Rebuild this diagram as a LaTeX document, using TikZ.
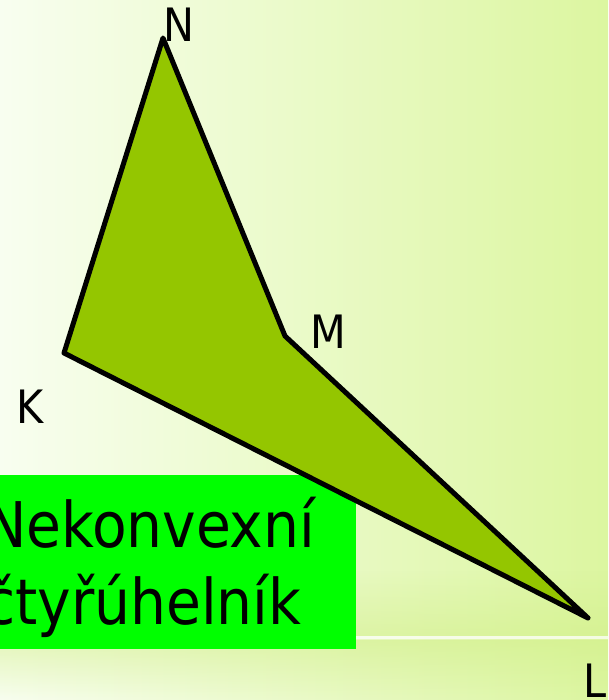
\documentclass[tikz,border=0pt]{standalone}
\usepackage{fontspec}
\setmainfont{DejaVu Sans Condensed}
\usetikzlibrary{calc,fadings}
\definecolor{bgL}{HTML}{F8FEF0}
\definecolor{bgR}{HTML}{DCF6A0}
\definecolor{polyfill}{HTML}{94C600}
\definecolor{boxgreen}{HTML}{00FF00}
\definecolor{band}{HTML}{D0EE84}
\tikzset{
  vlabel/.style={anchor=base west, inner sep=0pt, font=\fontsize{46}{46}\selectfont},
  quad/.style={draw=black, line width=5pt, line join=round, fill=polyfill},
}
\begin{document}
\begin{tikzpicture}[x=1pt,y=-1pt]
\useasboundingbox (0,0) rectangle (608,700);
\clip (0,0) rectangle (608,700);
% background
\shade[left color=bgL, right color=bgR] (0,0) rectangle (608,700);
\fill[band, opacity=0.45, path fading=north] (0,570) rectangle (608,636);
\fill[band, opacity=0.5, path fading=south] (0,640) rectangle (608,700);
\fill[white, opacity=0.7] (0,636) rectangle (608,639);
% box
\fill[boxgreen] (0,475) rectangle (356,649);
\node[anchor=base west, inner sep=0pt, align=left, font=\fontsize{63}{77}\selectfont] (title) at (-16,624) {Nekonvexní\\čtyřúhelník};
% quadrilateral
\coordinate (K) at (64,353);
\coordinate (N) at (163,38);
\coordinate (M) at (285,336);
\coordinate (L) at (588,618);
\draw[quad] (K) -- (N) -- (M) -- (L) -- cycle;
% labels
\node[vlabel] (lN) at (163,42) {N};
\node[vlabel] (lM) at (310,348) {M};
\node[vlabel] (lK) at (16,423) {K};
\node[vlabel] (lL) at (583,697) {L};
\end{tikzpicture}
\end{document}
